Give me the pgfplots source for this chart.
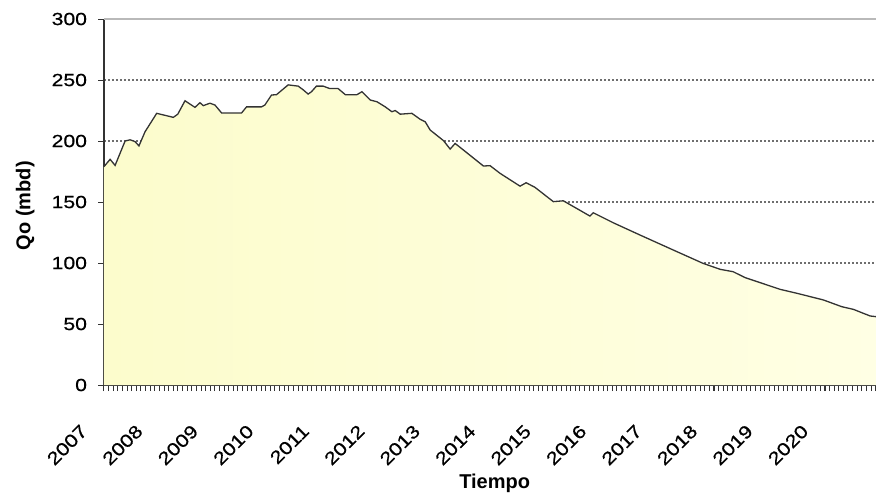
\documentclass[border=0pt]{standalone}
\usepackage{pgfplots}
\usepackage{pgfplotstable}
\pgfplotsset{compat=1.18}
\usepackage{fontspec}
\setmainfont{Liberation Sans}
\newfontfamily\tickfont[FakeStretch=1.2, FakeBold=0.6]{Liberation Sans}

\definecolor{linegray}{HTML}{333333}
\definecolor{gridgray}{HTML}{6E6E6E}
\definecolor{fillA}{RGB}{252,252,204}
\definecolor{fillB}{RGB}{255,255,228}

% monthly oil rate (x = decimal year)
\pgfplotstableread{
t qo
2007.00 179
2007.11 185
2007.20 180
2007.38 200
2007.47 201
2007.56 199.5
2007.63 196
2007.74 207.6
2007.95 222.7
2008.25 219.4
2008.33 222
2008.46 233
2008.64 227.6
2008.73 231.4
2008.79 229
2008.91 231
2009.00 229.5
2009.12 223
2009.48 223
2009.57 228
2009.84 228
2009.90 229.5
2010.02 237.7
2010.11 238
2010.32 246
2010.50 245
2010.59 242
2010.68 238.5
2010.74 240.4
2010.83 245
2010.95 245
2011.07 243
2011.22 243
2011.35 238
2011.56 238
2011.65 240.4
2011.80 233.6
2011.92 232.2
2012.07 228
2012.19 224
2012.25 225
2012.34 222
2012.55 222.7
2012.70 217.8
2012.79 215.8
2012.88 209
2013.12 200.3
2013.24 193.4
2013.33 198
2013.48 192.6
2013.84 179.5
2013.96 179.8
2014.14 173.5
2014.50 163
2014.61 165.8
2014.77 162
2015.10 150.3
2015.28 151
2015.76 138.5
2015.82 141.2
2016.18 133
2016.66 123
2017.26 110.7
2017.80 99.7
2018.11 94.8
2018.34 92.9
2018.56 88
2019.19 78.4
2019.49 75.2
2019.97 69.7
2020.30 64.2
2020.51 62
2020.81 56.6
2020.92 56
}\qodata

\begin{document}
\begin{tikzpicture}
\begin{axis}[
  scale only axis,
  width=386pt, height=183pt,
  xmin=2007, xmax=2020.917,
  ymin=0, ymax=300,
  axis lines=left,
  axis line style={-, draw=linegray, line width=0.75pt},
  ytick={0,50,...,250},
  extra y ticks={300},
  extra y tick style={grid style={solid, draw=gray!55, line width=0.6pt}},
  ymajorgrids,
  grid style={draw=gridgray, line width=0.7pt, dash pattern=on 1pt off 1pt},
  xtick={2007,...,2020},
  minor xtick={2007,2007.08333,...,2020.95},
  tick align=outside,
  major tick length=3pt, minor tick length=3pt,
  tick style={draw=linegray, line width=0.5pt},
  minor tick style={draw=linegray, line width=0.5pt},
  /pgf/number format/1000 sep={},
  /pgf/number format/assume math mode=true,
  tick label style={font=\tickfont\fontsize{8.8}{10}\selectfont},
  xticklabel style={font=\tickfont\fontsize{9}{11}\selectfont,
    xshift=-7.5pt, yshift=-16pt, rotate=45, anchor=east},
  yticklabel style={xshift=-2pt},
  xlabel={Tiempo},
  ylabel={Qo (mbd)},
  label style={font=\bfseries\fontsize{10}{12}\selectfont},
  xlabel style={at={(axis description cs:0.506,-0.268)}, anchor=center},
  ylabel style={at={(axis description cs:-0.102,0.49)}, anchor=center},
]
\addplot[draw=none, left color=fillA, right color=fillB] table[x=t, y=qo] {\qodata} \closedcycle;
\addplot[draw=linegray, line width=0.65pt] table[x=t, y=qo] {\qodata};
\end{axis}
\pgfresetboundingbox
\path[use as bounding box] (current axis.south west) ++(-52pt,-57.5pt) rectangle ++(438pt,250pt);
\end{tikzpicture}
\end{document}
